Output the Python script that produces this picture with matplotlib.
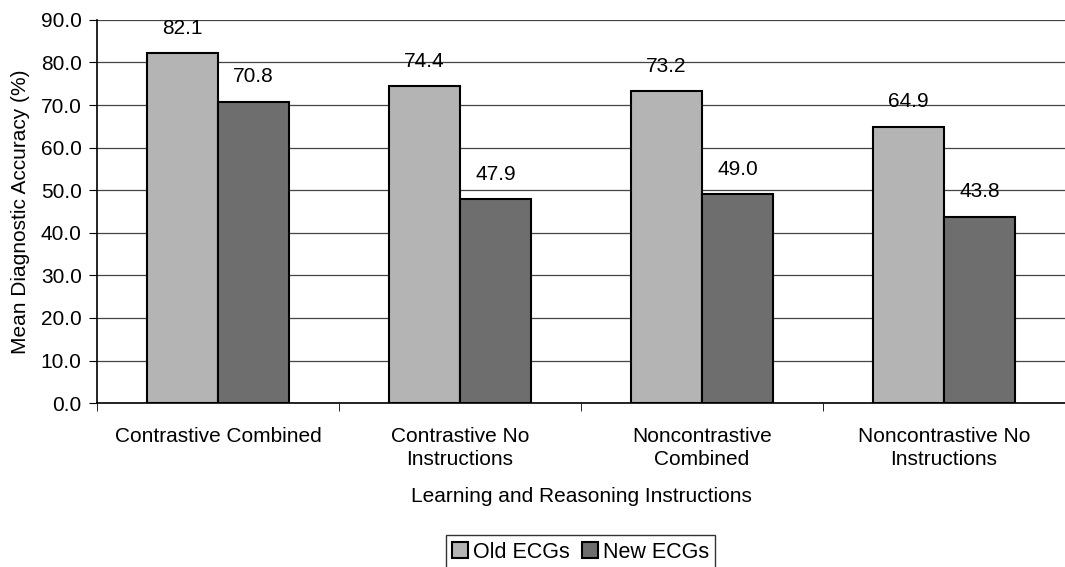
import numpy as np
import matplotlib.pyplot as plt

plt.rcParams['font.family'] = ['Liberation Sans', 'DejaVu Sans']

# DATA
categories = ["Contrastive Combined", "Contrastive No\nInstructions",
              "Noncontrastive\nCombined", "Noncontrastive No\nInstructions"]
old_ecgs = [82.1, 74.4, 73.2, 64.9]
new_ecgs = [70.8, 47.9, 49.0, 43.8]
y_ticks = np.arange(0, 91, 10)

FS = 15

fig = plt.figure(figsize=(10.65, 5.67), dpi=100)
ax = fig.add_axes([0.091, 0.289, 0.909, 0.676])

x = np.arange(len(categories))
w = 0.293

b1 = ax.bar(x - w / 2, old_ecgs, w, color="#b4b4b4", edgecolor="black",
            linewidth=1.5, label="Old ECGs", zorder=3)
b2 = ax.bar(x + w / 2, new_ecgs, w, color="#6e6e6e", edgecolor="black",
            linewidth=1.5, label="New ECGs", zorder=3)

for bars, vals in ((b1, old_ecgs), (b2, new_ecgs)):
    for rect, v in zip(bars, vals):
        ax.annotate(f"{v:.1f}", (rect.get_x() + rect.get_width() / 2, v),
                    xytext=(0, 11), textcoords="offset points",
                    ha="center", va="bottom", fontsize=FS, zorder=4)

ax.set_xlim(-0.5, 3.5)
ax.set_ylim(0, 90)
ax.set_yticks(y_ticks)
ax.set_yticklabels([f"{t:.1f}" for t in y_ticks], fontsize=FS)
ax.yaxis.grid(True, color="#444444", linewidth=0.9, zorder=0)

# category labels in the middle, tick marks between groups
ax.set_xticks(x)
ax.set_xticklabels(categories, fontsize=FS, linespacing=1.3)
ax.tick_params(axis="x", length=0, pad=17)
ax.set_xticks(np.arange(-0.5, 4.0, 1.0), minor=True)
ax.tick_params(axis="x", which="minor", length=6, direction="out")
ax.tick_params(axis="y", length=6, direction="out", pad=5)

for s in ("top", "right"):
    ax.spines[s].set_visible(False)
ax.spines["left"].set_linewidth(1.2)
ax.spines["bottom"].set_linewidth(1.2)

ax.set_xlabel("Learning and Reasoning Instructions", fontsize=FS, labelpad=13)
ax.set_ylabel("Mean Diagnostic Accuracy (%)", fontsize=FS, labelpad=8)

leg = fig.legend(handles=[b1, b2], loc="center", bbox_to_anchor=(0.545, 0.026),
                 ncol=2, fontsize=15.5, frameon=True, fancybox=False,
                 edgecolor="black", handlelength=0.75, handleheight=0.75,
                 handletextpad=0.2, columnspacing=0.6, borderpad=0.3,
                 borderaxespad=0)
leg.get_frame().set_linewidth(1.0)

fig.savefig("out.png", dpi=100)
